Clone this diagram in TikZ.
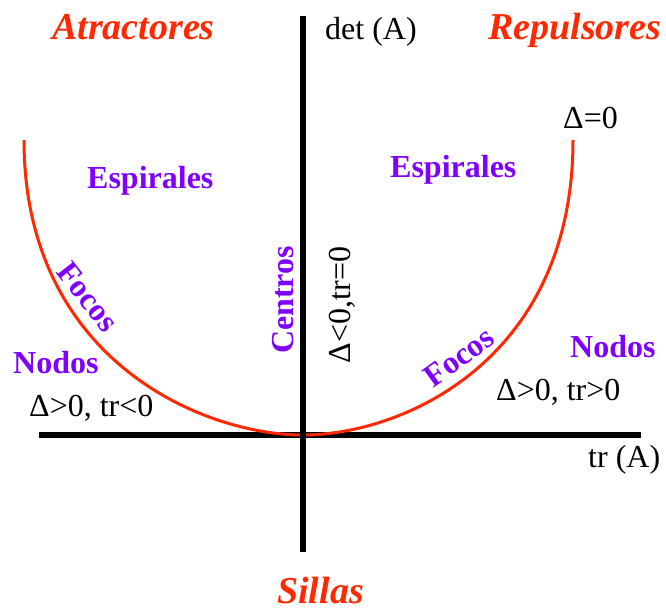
\documentclass[tikz,border=0pt]{standalone}
\usepackage{fontspec}
\setmainfont{Liberation Serif}
\definecolor{hotred}{RGB}{255,40,0}
\definecolor{vio}{RGB}{128,0,255}
\tikzset{
  axis/.style={line width=6pt, black},
  curve/.style={line width=3pt, hotred},
  region/.style={text=hotred, font=\fontsize{38}{40}\selectfont\bfseries\itshape, inner sep=0pt},
  kind/.style={text=vio, font=\fontsize{32}{34}\selectfont\bfseries, inner sep=0pt},
  cond/.style={text=black, font=\fontsize{32}{34}\selectfont, inner sep=0pt},
}
\begin{document}
\begin{tikzpicture}[x=1pt,y=-1pt]
\useasboundingbox (0,0) rectangle (666,611);
% axes
\coordinate (hl) at (39,435);
\coordinate (hr) at (641,435);
\coordinate (vt) at (303,16);
\coordinate (vb) at (303,552);
\coordinate (cl) at (24,140);
\coordinate (v0) at (303,435);
\coordinate (cr) at (573,140);
\draw[axis] (hl) -- (hr);
\draw[curve] (cl) .. controls (24,360) and (203,435) .. (v0)
                  .. controls (403,435) and (573,360) .. (cr);
\draw[axis] (vt) -- (vb);
% titles
\node[region, anchor=base west] (atr) at (52,39) {Atractores};
\node[region, anchor=base west] (rep) at (488,39) {Repulsores};
\node[region, anchor=base west] (sil) at (277,603) {Sillas};
% axis labels
\node[cond, anchor=base west] (det) at (325,39) {det (A)};
\node[cond, anchor=base west] (tr) at (588,467) {tr (A)};
\node[cond, anchor=base west] (d0) at (563,128) {Δ=0};
% kinds
\node[kind, anchor=base west] (esl) at (87,188) {Espirales};
\node[kind, anchor=base west] (esr) at (390,177) {Espirales};
\node[kind, anchor=base west] (nol) at (13,373) {Nodos};
\node[kind, anchor=base west] (nor) at (570,357) {Nodos};
\node[kind, rotate=-52] (fol) at (88,297) {Focos};
\node[kind, rotate=36] (for) at (459,357) {Focos};
\node[kind, rotate=90, anchor=base] (cen) at (293,300) {Centros};
% conditions
\node[cond, anchor=base west] (cl0) at (29,416) {Δ>0, tr<0};
\node[cond, anchor=base west] (cr0) at (496,400) {Δ>0, tr>0};
\node[cond, rotate=90, anchor=base] (cc0) at (350,305) {Δ<0,tr=0};
\end{tikzpicture}
\end{document}
